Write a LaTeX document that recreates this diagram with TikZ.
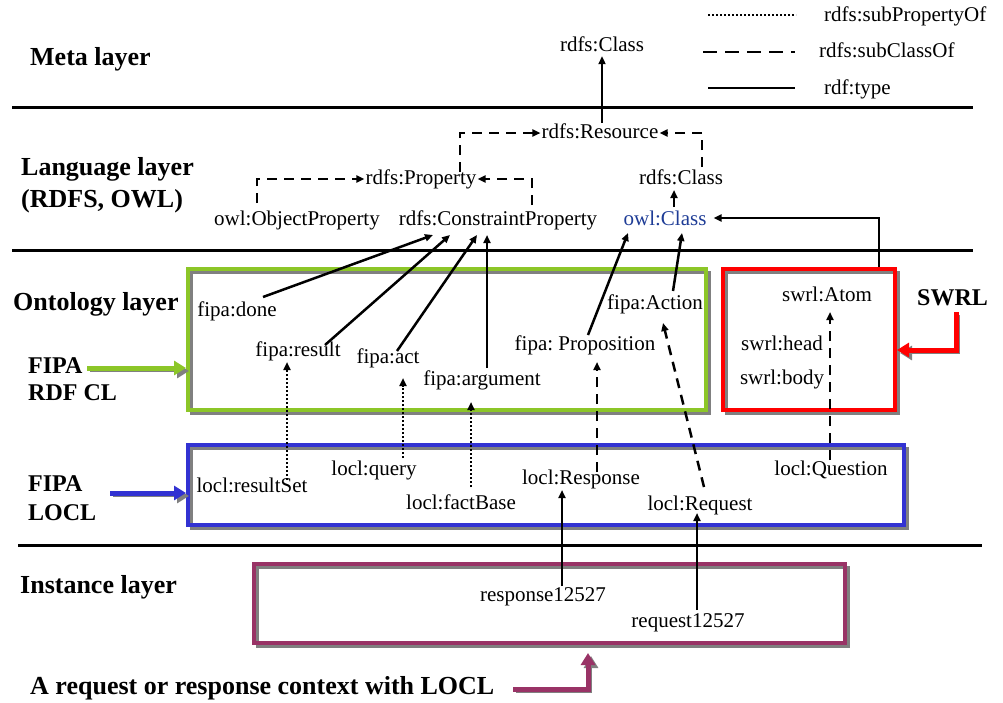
\documentclass[tikz,border=0pt]{standalone}
\usepackage{fontspec}
\setmainfont{Liberation Serif}
\usetikzlibrary{arrows.meta,calc}
\definecolor{boxgreen}{RGB}{140,198,40}
\definecolor{boxred}{RGB}{255,0,0}
\definecolor{boxblue}{RGB}{50,50,210}
\definecolor{boxpurple}{RGB}{153,51,102}
\definecolor{shadowgray}{RGB}{128,128,128}
\definecolor{owlblue}{RGB}{30,60,150}
\frenchspacing
\begin{document}
\begin{tikzpicture}[x=1pt,y=-1pt,
  lbl/.style={font=\fontsize{21}{24}\selectfont\rmfamily, inner sep=1pt, text height=14pt, text depth=4pt},
  layerlbl/.style={font=\fontsize{26}{30}\selectfont\rmfamily\bfseries, anchor=base west, inner sep=0pt},
  sidelbl/.style={font=\fontsize{24}{28}\selectfont\rmfamily\bfseries, anchor=base west, inner sep=0pt},
  tipped/.style={-{Triangle[length=8pt,width=7pt]}},
  typ/.style={tipped, line width=2.5pt},
  sub/.style={tipped, line width=2.5pt, dash pattern=on 10pt off 7pt},
  subp/.style={tipped, line width=2.5pt, dash pattern=on 2pt off 2pt},
  sepline/.style={line width=3pt},
  box/.style={draw=#1, line width=4pt, inner sep=0pt,
    preaction={draw=shadowgray, line width=3pt, transform canvas={shift={(3pt,-3pt)}}}},
  big/.style={line width=5pt, -{Triangle[length=12pt,width=14pt]}, draw=#1,
    preaction={draw=shadowgray, transform canvas={shift={(3pt,-3pt)}}}},
]
\useasboundingbox (0,0) rectangle (1003,702);

% boxes
\node[box=boxgreen, minimum width=518pt, minimum height=141pt] (gbox) at (447,339.5) {};
\node[box=boxred, minimum width=172pt, minimum height=141pt] (rbox) at (809,339.5) {};
\node[box=boxblue, minimum width=716pt, minimum height=80pt] (bbox) at (546,485) {};
\node[box=boxpurple, minimum width=591pt, minimum height=79pt] (pbox) at (549.5,603.5) {};

% layer separators
\draw[sepline] (12,107) -- (973,107);
\draw[sepline] (12,250) -- (973,250);
\draw[sepline] (18,545) -- (982,545);

% legend
\draw[line width=2.2pt, dash pattern=on 2pt off 2pt] (708,15) -- (796,15);
\draw[line width=2.5pt, dash pattern=on 14pt off 8pt] (703,52) -- (795,52);
\draw[line width=2.5pt] (708,88) -- (795,88);
\node[lbl, anchor=west] (lg1) at (823,16) {rdfs:subPropertyOf};
\node[lbl, anchor=west] (lg2) at (818,52) {rdfs:subClassOf};
\node[lbl, anchor=west] (lg3) at (823,89) {rdf:type};

% layer labels
\node[layerlbl] (meta) at (30,65) {Meta layer};
\node[layerlbl] (lang1) at (21,175) {Language layer};
\node[layerlbl] (lang2) at (21,207) {(RDFS, OWL)};
\node[layerlbl] (onto) at (13,310) {Ontology layer};
\node[sidelbl] (f1) at (28,373) {FIPA};
\node[sidelbl] (f2) at (28,400) {RDF CL};
\node[sidelbl] (f3) at (28,491) {FIPA};
\node[sidelbl] (f4) at (28,520) {LOCL};
\node[layerlbl] (inst) at (20,593) {Instance layer};
\node[layerlbl] (ctx) at (30,694) {A request or response context with LOCL};
\node[sidelbl] (swrl) at (917,305) {SWRL};

% meta + language
\node[lbl] (mcls) at (602,46) {rdfs:Class};
\node[lbl] (res) at (600,133) {rdfs:Resource};
\node[lbl] (prop) at (421,179) {rdfs:Property};
\node[lbl] (objp) at (297,220) {owl:ObjectProperty};
\node[lbl] (cons) at (498,220) {rdfs:ConstraintProperty};
\node[lbl] (cls) at (681,179) {rdfs:Class};
\node[lbl, text=owlblue] (owlc) at (665,220) {owl:Class};

% ontology
\node[lbl] (done) at (237,311) {fipa:done};
\node[lbl] (result) at (298,351) {fipa:result};
\node[lbl] (act) at (388,358) {fipa:act};
\node[lbl] (arg) at (482,380) {fipa:argument};
\node[lbl] (propn) at (585,345) {fipa: Proposition};
\node[lbl] (action) at (655,304) {fipa:Action};
\node[lbl] (atom) at (827,296) {swrl:Atom};
\node[lbl] (head) at (782,345) {swrl:head};
\node[lbl] (body) at (782,379) {swrl:body};

% locl
\node[lbl] (rset) at (252,487) {locl:resultSet};
\node[lbl] (query) at (374,470) {locl:query};
\node[lbl] (fbase) at (461,504) {locl:factBase};
\node[lbl] (resp) at (581,479) {locl:Response};
\node[lbl] (req) at (700,505) {locl:Request};
\node[lbl] (quest) at (831,470) {locl:Question};

% instances
\node[lbl] (r1) at (543,596) {response12527};
\node[lbl] (r2) at (688,622) {request12527};

% rdf:type
\draw[typ] (mcls.south |- res.north) -- (mcls.south);
\draw[typ] ($(done)+(26,-14)$) -- ($(cons)+(-65,15)$);
\draw[typ] ($(result)+(27,-6)$) -- ($(cons)+(-48,15)$);
\draw[typ] ($(act)+(9,-7)$) -- ($(cons)+(-21,15)$);
\draw[typ] ($(arg)+(5,-12)$) -- ($(cons)+(-11,15)$);
\draw[typ] ($(propn)+(3,-10)$) -- ($(owlc)+(-37,13)$);
\draw[typ] ($(action)+(18,-13)$) -- ($(owlc)+(17,13)$);
\draw[typ] ($(rbox.north east)+(-18,0)$) |- ($(owlc.east)+(6,-2)$);
\draw[typ] ($(r1)+(19,-10)$) -- ($(resp)+(-19,11)$);
\draw[typ] ($(r2)+(9,-12)$) -- ($(req)+(-3,8)$);

% subPropertyOf
\draw[subp] ($(rset)+(35,-7)$) -- ($(result)+(-11,11)$);
\draw[subp] ($(query)+(29,-12)$) -- ($(act)+(15,20)$);
\draw[subp] ($(fbase)+(10,-17)$) -- ($(arg)+(-11,22)$);

% subClassOf
\draw[sub] ($(resp)+(16,-7)$) -- ($(propn)+(12,17)$);
\draw[sub] ($(req)+(4,-18)$) -- ($(action)+(8,19)$);
\draw[sub] ($(quest)+(-1,-10)$) -- ($(atom)+(3,16)$);
\draw[sub] ($(prop)+(39,-7)$) |- (res.west);
\draw[sub] ($(cls)+(21,-12)$) |- (res.east);
\draw[sub] ($(objp)+(-40,-17)$) |- (prop.west);
\draw[sub] ($(cons)+(34,-15)$) |- (prop.east);
\draw[sub] ($(owlc)+(9,-13)$) -- ($(cls)+(-7,11)$);

% thick context arrows
\coordinate (g0) at (87,368);
\draw[big=boxgreen] (g0) -- (g0 -| gbox.west);
\coordinate (b0) at (110,493);
\draw[big=boxblue] (b0) -- (b0 -| bbox.west);
\coordinate (s0) at (956,312);
\coordinate (s1) at (956,350);
\draw[big=boxred] (s0) -- (s1) -- (s1 -| rbox.east);
\coordinate (p0) at (513,689);
\coordinate (p1) at (588,689);
\draw[big=boxpurple] (p0) -- (p1) -- ($(p1 |- pbox.south)+(0,8)$);
\end{tikzpicture}
\end{document}
